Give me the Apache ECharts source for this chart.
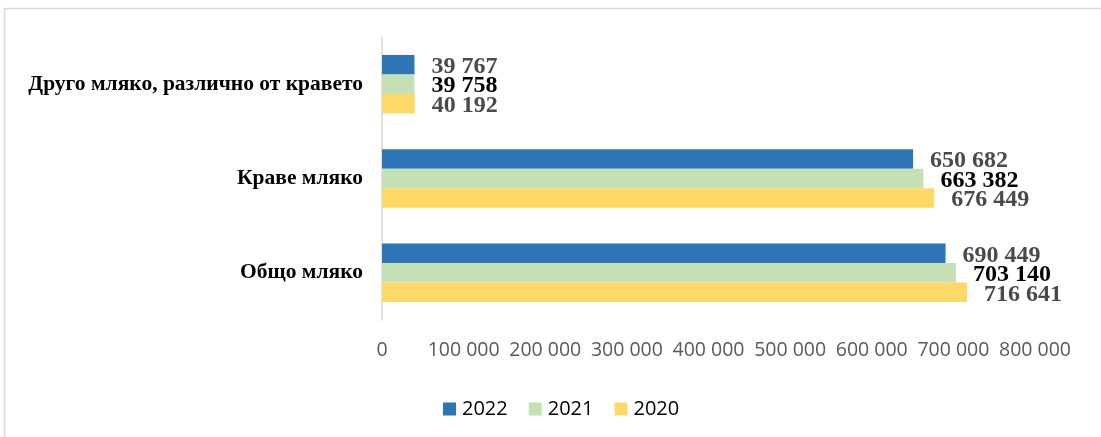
<!DOCTYPE html>
<html>
<head>
<meta charset="utf-8">
<script src="https://cdn.jsdelivr.net/npm/echarts@6/dist/echarts.min.js"></script>
<style>
html,body{margin:0;padding:0;background:#fff;}
#c{width:1101px;height:437px;}
</style>
</head>
<body>
<div id="c"></div>
<script>
var categories = ['Друго мляко, различно от кравето', 'Краве мляко', 'Общо мляко'];
var years = ['2022', '2021', '2020'];
var values2022 = [39767, 650682, 690449];
var values2021 = [39758, 663382, 703140];
var values2020 = [40192, 676449, 716641];
var xTicks = [0, 100000, 200000, 300000, 400000, 500000, 600000, 700000, 800000];

var colors = ['#2E75B6', '#C5E0B4', '#FFD966'];
var labelColors = ['#4a4a4a', '#000000', '#4a4a4a'];
var seriesValues = [values2022, values2021, values2020];

function fmt(v) {
  return String(v).replace(/\B(?=(\d{3})+(?!\d))/g, ' ');
}

var chart = echarts.init(document.getElementById('c'));
chart.setOption({
  animation: false,
  backgroundColor: '#fff',
  graphic: [{
    type: 'rect',
    shape: { x: 4.5, y: 8.5, width: 1200, height: 500 },
    style: { fill: 'none', stroke: '#d9d9d9', lineWidth: 1.5 },
    silent: true
  }],
  legend: {
    data: years,
    left: 438,
    top: 394,
    itemWidth: 13,
    itemHeight: 13,
    itemGap: 21,
    icon: 'rect',
    textStyle: { fontFamily: 'Open Sans', fontSize: 20, color: '#000', padding: [0, 0, 0, 1] }
  },
  grid: { left: 382, right: 66, top: 37, bottom: 117, containLabel: false },
  xAxis: {
    type: 'value',
    min: xTicks[0],
    max: xTicks[xTicks.length - 1],
    interval: xTicks[1] - xTicks[0],
    axisLine: { show: false },
    axisTick: { show: false },
    splitLine: { show: false },
    axisLabel: {
      margin: 20,
      fontFamily: 'Open Sans',
      fontSize: 19.5,
      color: '#595959',
      formatter: function (v) { return fmt(v); }
    }
  },
  yAxis: {
    type: 'category',
    data: categories,
    inverse: true,
    axisLine: { show: true, lineStyle: { color: '#d9d9d9', width: 1.5 } },
    axisTick: { show: false },
    axisLabel: {
      margin: 19,
      fontFamily: 'Liberation Serif',
      fontWeight: 'bold',
      fontSize: 21.5,
      color: '#000'
    }
  },
  series: years.map(function (y, i) {
    return {
      name: y,
      type: 'bar',
      data: seriesValues[i],
      barGap: '0%',
      barCategoryGap: '38%',
      itemStyle: { color: colors[i] },
      label: {
        show: true,
        position: 'right',
        distance: 17,
        offset: [0, 2],
        fontFamily: 'Liberation Serif',
        fontWeight: 'bold',
        fontSize: 24,
        color: labelColors[i],
        formatter: function (p) { return fmt(p.value); }
      }
    };
  })
});
</script>
</body>
</html>
